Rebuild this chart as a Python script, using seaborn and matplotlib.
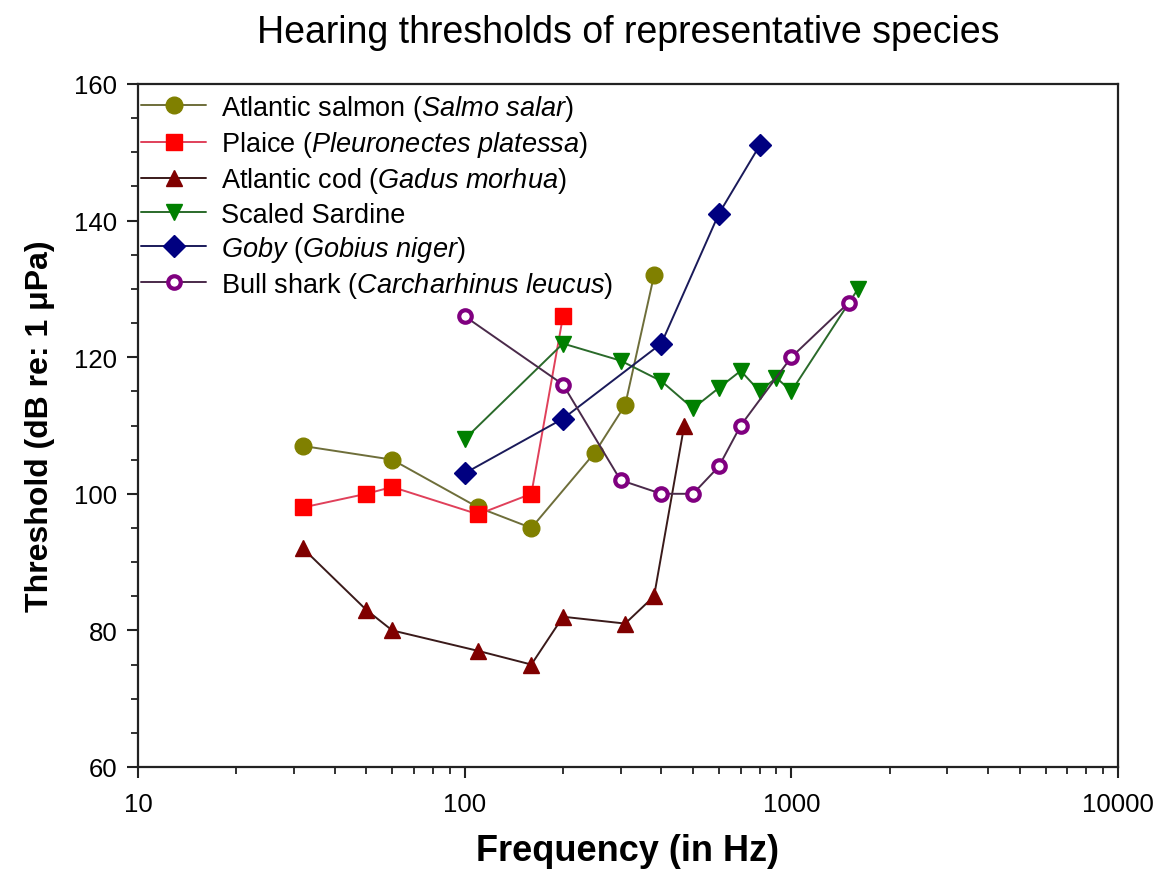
import numpy as np
import pandas as pd
import matplotlib
matplotlib.use("Agg")
import matplotlib.pyplot as plt
import matplotlib.ticker as mticker
from matplotlib import font_manager
import seaborn as sns

# ---- data ----
salmon_f = [32, 60, 110, 160, 250, 310, 380]
salmon_db = [107, 105, 98, 95, 106, 113, 132]

plaice_f = [32, 50, 60, 110, 160, 200]
plaice_db = [98, 100, 101, 97, 100, 126]

cod_f = [32, 50, 60, 110, 160, 200, 310, 380, 470]
cod_db = [92, 83, 80, 77, 75, 82, 81, 85, 110]

sardine_f = [100, 200, 300, 400, 500, 600, 700, 800, 900, 1000, 1600]
sardine_db = [108, 122, 119.5, 116.5, 112.5, 115.5, 118, 115, 117, 115, 130]

goby_f = [100, 200, 400, 600, 800]
goby_db = [103, 111, 122, 141, 151]

shark_f = [100, 200, 300, 400, 500, 600, 700, 1000, 1500]
shark_db = [126, 116, 102, 100, 100, 104, 110, 120, 128]

labels = [
    r"Atlantic salmon ($\mathit{Salmo\ salar}$)",
    r"Plaice ($\mathit{Pleuronectes\ platessa}$)",
    r"Atlantic cod ($\mathit{Gadus\ morhua}$)",
    "Scaled Sardine",
    r"$\mathit{Goby\ (Gobius\ niger)}$",
    r"Bull shark ($\mathit{Carcharhinus\ leucus}$)",
]
x_ticks = [10, 100, 1000, 10000]
y_ticks = [60, 80, 100, 120, 140, 160]

sns.set_theme(style="ticks")
plt.rcParams['font.family'] = ['Liberation Sans', 'DejaVu Sans']
plt.rcParams['mathtext.fontset'] = 'custom'
plt.rcParams['mathtext.rm'] = 'Liberation Sans'
plt.rcParams['mathtext.it'] = 'Liberation Sans:italic'
plt.rcParams['mathtext.bf'] = 'Liberation Sans:bold'
plt.rcParams['text.color'] = 'black'
plt.rcParams['axes.labelcolor'] = 'black'
plt.rcParams['xtick.color'] = 'black'
plt.rcParams['ytick.color'] = 'black'

names = {f.name for f in font_manager.fontManager.ttflist}
tick_family = 'Liberation Sans Narrow' if 'Liberation Sans Narrow' in names else 'Liberation Sans'

fig = plt.figure(figsize=(11.61, 8.7), dpi=100)
ax = fig.add_axes([138/1161, 1-768/870, (1118-138)/1161, (768-85)/870])

series = [
    (salmon_f, salmon_db, 'o', '#808000', '#6e6e3a', 12, 1.0, '#808000'),
    (plaice_f, plaice_db, 's', '#ff0000', '#e0405a', 11.5, 1.0, '#ff0000'),
    (cod_f, cod_db, '^', '#800000', '#3a1a1a', 12, 1.0, '#800000'),
    (sardine_f, sardine_db, 'v', '#008000', '#2a6a2a', 12, 1.0, '#008000'),
    (goby_f, goby_db, 'D', '#000080', '#1a1a5a', 11, 1.0, '#000080'),
    (shark_f, shark_db, 'o', 'white', '#4a2a4a', 9, 3.0, '#800080'),
]

for (f, db, mk, mfc, lc, ms, mew, mec), lab in zip(series, labels):
    df = pd.DataFrame({"freq": f, "db": db})
    sns.lineplot(data=df, x="freq", y="db", ax=ax, sort=False, estimator=None,
                 color=lc, linewidth=1.4, marker=mk, markersize=ms,
                 markerfacecolor=mfc, markeredgecolor=mec, markeredgewidth=mew,
                 label=lab)

ax.set_xscale('log')
ax.set_xlim(10, 10000)
ax.set_ylim(60, 160)
ax.set_xticks(x_ticks)
ax.xaxis.set_major_formatter(mticker.FuncFormatter(lambda v, p: f"{int(v)}"))
ax.xaxis.set_minor_locator(mticker.LogLocator(base=10, subs=np.arange(2, 10)))
ax.xaxis.set_minor_formatter(mticker.NullFormatter())
ax.set_yticks(y_ticks)
ax.yaxis.set_minor_locator(mticker.MultipleLocator(5))

for sp in ax.spines.values():
    sp.set_visible(True)
    sp.set_linewidth(1.6)
    sp.set_color('#222222')

ax.tick_params(axis='both', which='major', direction='out', length=8, width=1.5,
               color='#222222', labelsize=18.5, pad=7, top=False, right=False)
ax.tick_params(axis='x', which='major', pad=10)
ax.tick_params(axis='both', which='minor', direction='out', length=5, width=1.3,
               color='#222222', top=False, right=False)
for t in ax.get_xticklabels() + ax.get_yticklabels():
    t.set_family([tick_family, 'DejaVu Sans'])

ax.set_xlabel("Frequency (in Hz)", fontsize=26, fontweight='bold', labelpad=12)
ax.set_ylabel("Threshold (dB re: 1 μPa)", fontsize=23, fontweight='bold', labelpad=14)
ax.set_title("Hearing thresholds of representative species", fontsize=27, pad=30)

leg = ax.legend(loc='upper left', bbox_to_anchor=(-0.002, 0.995), frameon=False,
                fontsize=19.5, handlelength=2.4, handletextpad=0.55,
                labelspacing=0.23, borderaxespad=0.0, borderpad=0.2)

fig.savefig("out.png", dpi=100, facecolor='white')
